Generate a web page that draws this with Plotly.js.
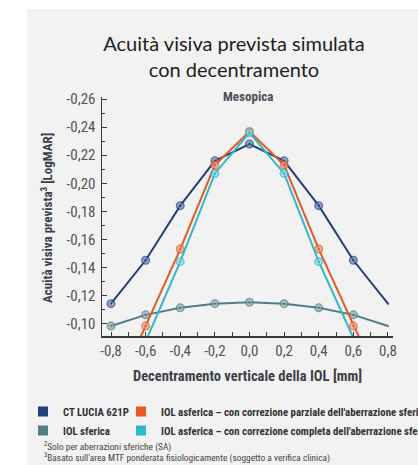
<!DOCTYPE html>
<html><head><meta charset="utf-8">
<script src="https://cdn.plot.ly/plotly-3.0.1.min.js"></script>
<style>html,body{margin:0;padding:0;background:#fff;}#chart{width:418px;height:465px;}</style>
</head><body><div id="chart"></div>
<script>
const decentering = [-0.8, -0.6, -0.4, -0.2, 0.0, 0.2, 0.4, 0.6, 0.8];
const ctLucia = [-0.114, -0.145, -0.184, -0.216, -0.228, -0.216, -0.184, -0.145, -0.114];
const asphericPartial = [-0.045, -0.098, -0.153, -0.213, -0.237, -0.213, -0.153, -0.098, -0.045];
const asphericFull = [-0.035, -0.087, -0.144, -0.207, -0.236, -0.207, -0.144, -0.087, -0.035];
const spherical = [-0.098, -0.106, -0.111, -0.114, -0.115, -0.114, -0.111, -0.106, -0.098];
const xTickVals = [-0.8, -0.6, -0.4, -0.2, 0.0, 0.2, 0.4, 0.6, 0.8];
const xTickText = ['-0,8', '-0,6', '-0,4', '-0,2', '0,0', '0,2', '0,4', '0,6', '0,8'];
const yTickVals = [-0.26, -0.24, -0.22, -0.20, -0.18, -0.16, -0.14, -0.12, -0.10];
const yTickText = ['-0,26', '-0,24', '-0,22', '-0,20', '-0,18', '-0,16', '-0,14', '-0,12', '-0,10'];
const seriesNames = ['CT LUCIA 621P', 'IOL sferica',
  "IOL asferica – con correzione parziale dell'aberrazione sferica",
  "IOL asferica – con correzione completa dell'aberrazione sferica"];

const C = {blue: '#22407f', teal: '#4f7f85', orange: '#ea571f', cyan: '#2bb9cf'};
const F = {narrow: '"Liberation Sans Narrow", "Roboto Condensed", Roboto, sans-serif'};
const panel = '#f2f2f2';

function line(y, color, fill, name) {
  return {
    x: decentering, y: y, type: 'scatter', mode: 'lines+markers', name: name, showlegend: false,
    line: {color: color, width: 2},
    marker: {symbol: 'circle-dot', size: decentering.map(v => v >= 0.8 ? 0 : 7.5), color: fill,
             line: {color: color, width: 1.5}}
  };
}
function key(color, name, legend) {
  return {x: [null], y: [null], type: 'scatter', mode: 'markers', name: name, legend: legend,
          marker: {symbol: 'square', size: 10, color: color, line: {width: 0}}, hoverinfo: 'skip'};
}

const data = [
  line(spherical, C.teal, '#8fb0b3', seriesNames[1]),
  line(ctLucia, C.blue, '#6f88bb', seriesNames[0]),
  line(asphericPartial, C.orange, '#f5a080', seriesNames[2]),
  line(asphericFull, C.cyan, '#8edbe6', seriesNames[3]),
  key(C.blue, seriesNames[0], 'legend'),
  key(C.teal, seriesNames[1], 'legend'),
  key(C.orange, seriesNames[2], 'legend2'),
  key(C.cyan, seriesNames[3], 'legend2')
];

const legendBase = {orientation: 'v', xref: 'container', yref: 'container', yanchor: 'top', xanchor: 'left',
  bgcolor: 'rgba(0,0,0,0)', font: {family: F.narrow, size: 10.8, color: '#333', weight: 'bold'},
  tracegroupgap: 0, itemclick: false};

const px = v => (v - 102) / 291;      // page x -> paper x
const py = v => (336 - v) / 239;      // page y -> paper y

const layout = {
  width: 418, height: 465,
  margin: {l: 102, r: 25, t: 97, b: 129, autoexpand: false},
  paper_bgcolor: '#ffffff', plot_bgcolor: panel,
  showlegend: true,
  title: {text: 'Acuità visiva prevista simulata<br>con decentramento', xref: 'container', x: 234 / 418,
          xanchor: 'center', yref: 'container', y: 1 - 51 / 465, yanchor: 'top',
          font: {family: 'Lato, "Open Sans", sans-serif', size: 20, color: '#1e1e1e'}},
  xaxis: {range: [-0.852, 0.829], showgrid: false, zeroline: false, showline: true, linecolor: '#3a3a3a', linewidth: 1.5,
          tickmode: 'array', tickvals: xTickVals, ticktext: xTickText, ticks: 'inside', ticklen: 4, tickcolor: '#3a3a3a',
          minor: {tickmode: 'linear', tick0: -0.8, dtick: 0.1, ticks: 'inside', ticklen: 4, tickcolor: '#3a3a3a'},
          tickfont: {family: F.narrow, size: 15, color: '#555'},
          title: {text: 'Decentramento verticale della IOL [mm]', standoff: 12,
                  font: {family: F.narrow, size: 14.5, color: '#3c3f48', weight: 'bold'}}},
  yaxis: {range: [-0.0909, -0.2616], showgrid: false, zeroline: false, showline: true, linecolor: '#3a3a3a', linewidth: 1.5,
          tickmode: 'array', tickvals: yTickVals, ticktext: yTickText, ticks: 'inside', ticklen: 5, tickcolor: '#3a3a3a',
          ticklabelstandoff: 2,
          minor: {tickmode: 'linear', tick0: -0.26, dtick: 0.01, ticks: 'inside', ticklen: 3, tickcolor: '#3a3a3a'},
          tickfont: {family: F.narrow, size: 15, color: '#555'}},
  legend: Object.assign({}, legendBase, {x: 23 / 418, y: 1 - 397 / 465}),
  legend2: Object.assign({}, legendBase, {x: 121 / 418, y: 1 - 397 / 465}),
  shapes: [{type: 'rect', xref: 'paper', yref: 'paper', x0: px(27), x1: px(440), y0: py(480), y1: py(9),
            fillcolor: panel, line: {width: 0}, layer: 'below'}],
  annotations: [
    {text: 'Acuità visiva prevista<sup>3</sup> [LogMAR]', xref: 'paper', yref: 'paper', x: px(47), y: py(218),
     textangle: -90, showarrow: false, xanchor: 'center', yanchor: 'middle',
     font: {family: F.narrow, size: 13, color: '#3c3f48', weight: 'bold'}},
    {text: 'Mesopica', xref: 'paper', yref: 'paper', x: px(248), y: py(96), showarrow: false,
     xanchor: 'center', yanchor: 'middle', font: {family: F.narrow, size: 13, color: '#4a4e5a', weight: 'bold'}},
    {text: '<sup>2</sup>Solo per aberrazioni sferiche (SA)', xref: 'paper', yref: 'paper',
     x: px(42), y: py(446), xanchor: 'left', yanchor: 'middle', showarrow: false, align: 'left',
     font: {family: F.narrow, size: 9.4, color: '#444'}},
    {text: "<sup>3</sup>Basato sull'area MTF ponderata fisiologicamente (soggetto a verifica clinica)", xref: 'paper', yref: 'paper',
     x: px(42), y: py(457.5), xanchor: 'left', yanchor: 'middle', showarrow: false, align: 'left',
     font: {family: F.narrow, size: 9.4, color: '#444'}}
  ]
};

Plotly.newPlot('chart', data, layout, {staticPlot: true, displayModeBar: false});
</script></body></html>
